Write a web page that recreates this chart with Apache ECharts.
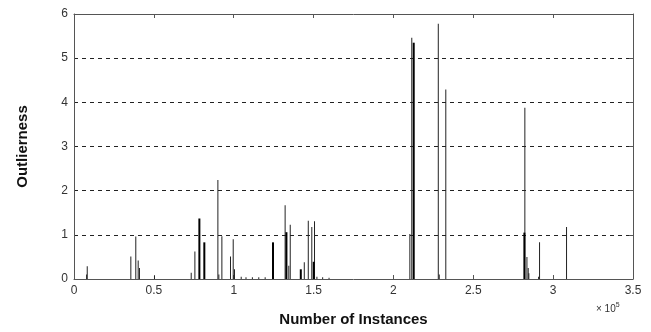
<!DOCTYPE html>
<html>
<head>
<meta charset="utf-8">
<script src="https://cdn.jsdelivr.net/npm/echarts@6/dist/echarts.min.js"></script>
<style>
  html, body { margin: 0; padding: 0; background: #fff; }
  #chart { width: 651px; height: 332px; }
</style>
</head>
<body>
<div id="chart"></div>
<script>
// positions in units of 1e5 instances
const thinX = [0.082, 0.086, 0.359, 0.39, 0.405, 0.413, 0.507, 0.737, 0.76, 0.904, 0.91, 0.929, 0.983, 1.0, 1.008,
    1.05, 1.08, 1.12, 1.16, 1.2, 1.325, 1.348, 1.357, 1.445, 1.47, 1.492, 1.509, 1.524, 1.56, 1.6,
    2.106, 2.118, 2.284, 2.29, 2.331, 2.826, 2.839, 2.847, 2.851, 2.912, 2.918, 3.087];
const thinY = [0.1, 0.29, 0.51, 0.96, 0.42, 0.25, 0.07, 0.14, 0.62, 2.24, 0.1, 0.97, 0.51, 0.9, 0.22,
    0.05, 0.04, 0.04, 0.04, 0.04, 1.67, 0.3, 1.23, 0.38, 1.32, 1.18, 1.31, 0.05, 0.04, 0.03,
    1.02, 5.46, 5.78, 0.1, 4.29, 3.88, 0.5, 0.25, 0.13, 0.05, 0.83, 1.18];
const thickX = [0.785, 0.816, 1.246, 1.33, 1.42, 1.501, 2.127, 2.82];
const thickY = [1.37, 0.83, 0.83, 1.06, 0.22, 0.39, 5.35, 1.05];
const yTicks = [0, 1, 2, 3, 4, 5, 6];
const xTickStep = 0.5;

const pairs = (xs, ys) => xs.map((x, i) => [x, ys[i]]);

const chart = echarts.init(document.getElementById('chart'));
const font = 'Liberation Sans, Arial, sans-serif';
const labelStyle = { color: '#333', fontSize: 12, fontFamily: font };
const frame = { show: true, onZero: false, lineStyle: { color: '#555', width: 1 } };
const tickIn = { show: true, inside: true, length: 4, lineStyle: { color: '#555' } };

chart.setOption({
    animation: false,
    grid: { left: 74, right: 18, top: 14, bottom: 49 },
    xAxis: [{
        type: 'value', min: 0, max: 3.5, interval: xTickStep,
        name: 'Number of Instances', nameLocation: 'middle', nameGap: 33,
        nameTextStyle: { color: '#111', fontSize: 15, fontWeight: 'bold', fontFamily: font },
        axisLine: frame, axisTick: tickIn,
        axisLabel: Object.assign({ margin: 6 }, labelStyle),
        splitLine: { show: false }
    }, {
        type: 'value', position: 'top', min: 0, max: 3.5, interval: xTickStep,
        axisLine: frame, axisTick: tickIn,
        axisLabel: { show: false }, splitLine: { show: false }
    }],
    yAxis: [{
        type: 'value', min: yTicks[0], max: yTicks[yTicks.length - 1], interval: 1,
        name: 'Outlierness', nameLocation: 'middle', nameGap: 44,
        nameTextStyle: { color: '#111', fontSize: 15, fontWeight: 'bold', fontFamily: font },
        axisLine: frame,
        axisTick: { show: false },
        axisLabel: Object.assign({ margin: 6 }, labelStyle),
        splitLine: { show: true, lineStyle: { color: '#222', type: [4, 4], width: 1 } }
    }, {
        type: 'value', position: 'right', min: 0, max: 6, interval: 1,
        axisLine: frame, axisTick: tickIn,
        axisLabel: { show: false }, splitLine: { show: false }
    }],
    graphic: [{
        type: 'text', left: 596, top: 302,
        style: {
            text: '{a|× 10}{b|5}',
            rich: {
                a: { fontSize: 10, fill: '#333', fontFamily: font },
                b: { fontSize: 7, fill: '#333', verticalAlign: 'top', padding: [0, 0, 8, 0] }
            }
        }
    }],
    series: [{
        type: 'bar', data: pairs(thinX, thinY), barWidth: 1,
        itemStyle: { color: '#222' }, barGap: '-100%'
    }, {
        type: 'bar', data: pairs(thickX, thickY), barWidth: 2,
        itemStyle: { color: '#000' }, barGap: '-100%'
    }]
});
</script>
</body>
</html>
